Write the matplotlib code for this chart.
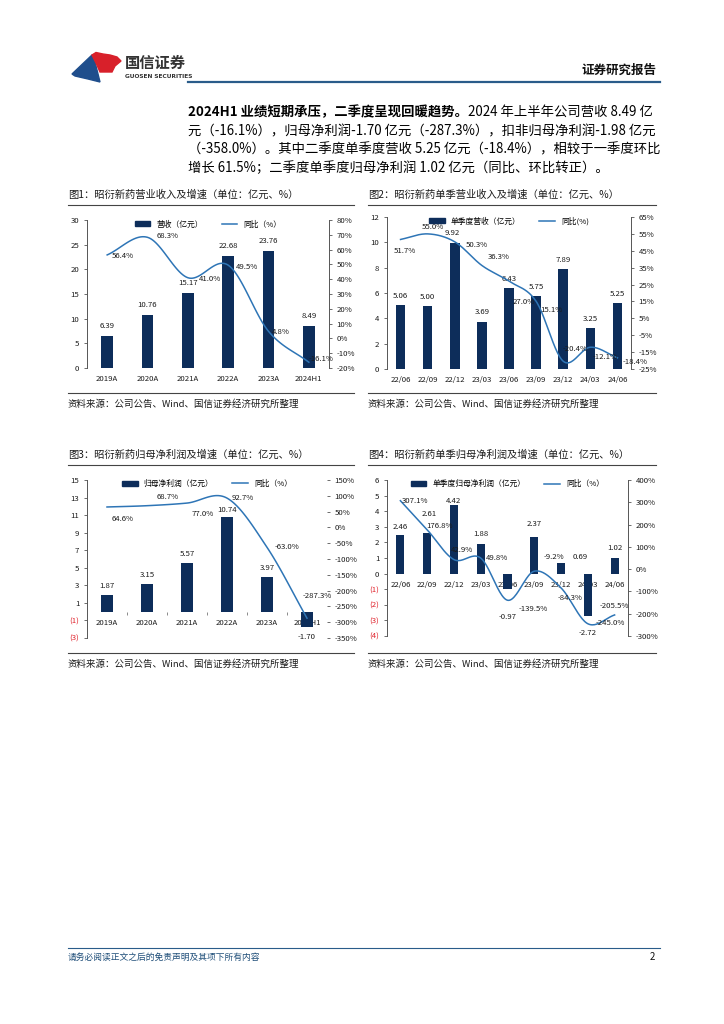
import numpy as np
import matplotlib.pyplot as plt
from matplotlib.patches import Patch, Polygon
from matplotlib.lines import Line2D

plt.rcParams['font.family'] = ['Noto Sans CJK SC', 'DejaVu Sans']
plt.rcParams['axes.unicode_minus'] = False

W, H = 724, 1024
BAR = '#0d2d5a'
LINE = '#2e75b6'
RED = '#e0202a'
TXT = '#1a1a1a'

# ---- data ----
years = ['2019A', '2020A', '2021A', '2022A', '2023A', '2024H1']
rev = [6.39, 10.76, 15.17, 22.68, 23.76, 8.49]
rev_yoy = [56.4, 68.3, 41.0, 49.5, 4.8, -16.1]

quarters = ['22/06', '22/09', '22/12', '23/03', '23/06', '23/09', '23/12', '24/03', '24/06']
q_rev = [5.06, 5.00, 9.92, 3.69, 6.43, 5.75, 7.89, 3.25, 5.25]
q_rev_yoy = [51.7, 55.0, 50.3, 36.3, 27.0, 15.1, -20.4, -12.1, -18.4]

profit = [1.87, 3.15, 5.57, 10.74, 3.97, -1.70]
profit_yoy = [64.6, 68.7, 77.0, 92.7, -63.0, -287.3]

q_profit = [2.46, 2.61, 4.42, 1.88, -0.97, 2.37, 0.69, -2.72, 1.02]
q_profit_yoy = [307.1, 176.8, 42.9, 49.8, -139.5, -9.2, -84.3, -245.0, -205.5]

titles = ['图1：昭衍新药营业收入及增速（单位：亿元、%）',
          '图2：昭衍新药单季营业收入及增速（单位：亿元、%）',
          '图3：昭衍新药归母净利润及增速（单位：亿元、%）',
          '图4：昭衍新药单季归母净利润及增速（单位：亿元、%）']
source = '资料来源：公司公告、Wind、国信证券经济研究所整理'

fig = plt.figure(figsize=(W / 100, H / 100), dpi=100)


def px_rect(x0, y0, x1, y1):
    return [x0 / W, 1 - y1 / H, (x1 - x0) / W, (y1 - y0) / H]


def smooth(xs, ys, n=24):
    # catmull-rom through the data points (like excel smoothed lines)
    xs = np.asarray(xs, float)
    ys = np.asarray(ys, float)
    px = np.concatenate([[2 * xs[0] - xs[1]], xs, [2 * xs[-1] - xs[-2]]])
    py = np.concatenate([[2 * ys[0] - ys[1]], ys, [2 * ys[-1] - ys[-2]]])
    t = np.linspace(0, 1, n, endpoint=False)
    outx, outy = [], []
    for i in range(1, len(px) - 2):
        for arr, out in ((px, outx), (py, outy)):
            p0, p1, p2, p3 = arr[i - 1:i + 3]
            out.extend(0.5 * (2 * p1 + (-p0 + p2) * t + (2 * p0 - 5 * p1 + 4 * p2 - p3) * t ** 2
                              + (-p0 + 3 * p1 - 3 * p2 + p3) * t ** 3))
    outx.append(xs[-1])
    outy.append(ys[-1])
    return outx, outy


# ---- page furniture ----
page = fig.add_axes([0, 0, 1, 1])
page.set_xlim(0, W)
page.set_ylim(H, 0)
page.axis('off')

page.add_patch(Polygon([(72, 74), (92, 55), (95, 59), (96, 66), (98, 74), (100, 82), (88, 79), (75, 76)],
                       closed=True, color='#1f4e8c'))
page.add_patch(Polygon([(92, 55), (96, 52.5), (103, 54), (110, 55), (117, 57), (121, 61), (115, 66),
                        (112, 72), (100, 72), (96, 63)], closed=True, color='#d8202a'))
page.text(125, 63, '国信证券', fontsize=11, fontweight='bold', color='#333333', va='center')
page.text(125, 77, 'GUOSEN SECURITIES', fontsize=4.2, fontweight='bold', color='#333333',
          va='center', family='DejaVu Sans')
page.text(656, 70, '证券研究报告', fontsize=9, fontweight='bold', color='#111111', ha='right', va='center')
page.plot([188, 660], [82, 82], color='#2a5c8a', lw=1.6)

FS = 9.6
r = fig.canvas.get_renderer()
t1 = page.text(188, 112, '2024H1 业绩短期承压，二季度呈现回暖趋势。', fontsize=FS,
               fontweight='bold', color='#000000', va='center')
w1 = t1.get_window_extent(renderer=r).width
page.text(188 + w1, 112, '2024 年上半年公司营收 8.49 亿', fontsize=FS, color='#000000', va='center')
body = ['元（-16.1%），归母净利润-1.70 亿元（-287.3%），扣非归母净利润-1.98 亿元',
        '（-358.0%）。其中二季度单季度营收 5.25 亿元（-18.4%），相较于一季度环比',
        '增长 61.5%；二季度单季度归母净利润 1.02 亿元（同比、环比转正）。']
for i, line in enumerate(body):
    page.text(188, 131 + i * 18.7, line, fontsize=FS, color='#000000', va='center')

# title / source rules for the four panels
for (x0, x1), ty in [((68, 354), 195), ((368, 656), 195), ((68, 354), 455), ((368, 656), 455)]:
    idx = (0 if x0 < 300 else 1) + (0 if ty < 300 else 2)
    page.text(x0, ty, titles[idx], fontsize=7.4, color=TXT, va='center')
    page.plot([x0, x1], [ty + 10, ty + 10], color='#444444', lw=0.8)
    sy = 393 if ty < 300 else 653
    page.plot([x0, x1], [sy, sy], color='#444444', lw=0.8)
    page.text(x0, sy + 11, source, fontsize=6.8, color=TXT, va='center')

page.plot([68, 660], [948, 948], color='#2a5c8a', lw=0.8)
page.text(68, 957, '请务必阅读正文之后的免责声明及其项下所有内容', fontsize=6.3, color='#1f4e79', va='center')
page.text(655, 957, '2', fontsize=7, color='#111111', ha='right', va='center')


def neg_label(v):
    return f'({abs(int(v))})' if v < 0 else f'{int(v)}'


def combo(rect, cats, bars, yoy, ylim, ystep, rlim, rstep, bar_w, labels,
          line_off, bar_off, zero_axis=False, right_spine=True, cat_ticks=False):
    ax = fig.add_axes(px_rect(*rect))
    x = np.arange(len(cats))
    ax.bar(x, bars, width=bar_w, color=BAR, zorder=2)
    ax.set_xlim(-0.5, len(cats) - 0.5)
    ax.set_ylim(*ylim)
    yt = np.arange(ylim[0], ylim[1] + 0.001, ystep)
    ax.set_yticks(yt)
    ax.set_yticklabels([neg_label(v) for v in yt])
    for lab, v in zip(ax.get_yticklabels(), yt):
        lab.set_color(RED if v < 0 else TXT)
    ax.set_xticks(x)
    ax.set_xticklabels(cats)
    ax.spines['top'].set_visible(False)
    ax.spines['right'].set_visible(False)
    ax.spines['left'].set_color('#555555')
    ax.spines['left'].set_linewidth(0.7)
    ax.spines['bottom'].set_color('none')
    if zero_axis:
        ax.spines['bottom'].set_position(('data', 0))
    ax.tick_params(axis='y', labelsize=5.6, length=2.5, width=0.6, color='#555555', pad=3)
    ax.tick_params(axis='x', labelsize=5.6, length=0, pad=5, labelcolor=TXT)
    if cat_ticks:
        ax.set_xticks(x[:-1] + 0.5, minor=True)
        ax.tick_params(axis='x', which='minor', length=2.5, width=0.6, color='#777777', direction='out')
    for xi, v, off in zip(x, bars, bar_off):
        ax.annotate(f'{v:.2f}', (xi, v), xytext=off, textcoords='offset pixels',
                    ha='center', va='center', fontsize=5.6, color=TXT)

    ax2 = ax.twinx()
    sx, sy = smooth(x, yoy)
    ax2.plot(sx, sy, color=LINE, lw=1.1, zorder=3)
    ax2.set_ylim(*rlim)
    rt = np.arange(rlim[0], rlim[1] + 0.001, rstep)
    ax2.set_yticks(rt)
    ax2.set_yticklabels([f'{int(v)}%' for v in rt])
    for s in ['top', 'left', 'bottom']:
        ax2.spines[s].set_visible(False)
    if right_spine:
        ax2.spines['right'].set_color('#555555')
        ax2.spines['right'].set_linewidth(0.7)
    else:
        ax2.spines['right'].set_visible(False)
    ax2.tick_params(axis='y', labelsize=5.6, length=2.5, width=0.6, color='#555555', pad=3, labelcolor=TXT)
    for xi, v, off in zip(x, yoy, line_off):
        ax2.annotate(f'{v:.1f}%', (xi, v), xytext=off, textcoords='offset pixels',
                     ha='center', va='center', fontsize=5.6, color=TXT)

    handles = [Patch(color=BAR), Line2D([0], [0], color=LINE, lw=1.1)]
    ax2.legend(handles, labels, loc='upper center', bbox_to_anchor=(0.5, 1.045), ncol=2,
               frameon=False, fontsize=5.6, handlelength=2.0, handleheight=0.6,
               columnspacing=2.4, handletextpad=0.8)
    return ax, ax2


combo((87, 220, 329, 368), years, rev, rev_yoy, (0, 30), 5, (-20, 80), 10, 0.29,
      ['营收（亿元）', '同比（%）'],
      [(16, -1), (20, 1), (22, -1), (19, -2), (12, -1), (12, 3)],
      [(0, 10)] * 6)

combo((387, 217, 631, 369), quarters, q_rev, q_rev_yoy, (0, 12), 2, (-25, 65), 10, 0.35,
      ['单季度营收（亿元）', '同比(%)'],
      [(4, -12), (5, 7), (22, -3), (17, 8), (15, -21), (15, -9), (12, 12), (15, -10), (18, -4)],
      [(0, 9), (0, 9), (-3, 10), (0, 10), (0, 9), (0, 9), (0, 9), (0, 9), (0, 9)])

combo((87, 480, 327, 638), years, profit, profit_yoy, (-3, 15), 2, (-350, 150), 50, 0.29,
      ['归母净利润（亿元）', '同比（%）'],
      [(16, -12), (21, 9), (16, -11), (16, 0), (20, 0), (10, 22)],
      [(0, 9), (0, 9), (0, 9), (0, 7), (0, 9), (0, -10)],
      zero_axis=True, right_spine=False, cat_ticks=True)

combo((387, 480, 628, 636), quarters, q_profit, q_profit_yoy, (-4, 6), 1, (-300, 400), 100, 0.3,
      ['单季度归母净利润（亿元）', '同比（%）'],
      [(15, 0), (12, 4), (8, 10), (16, 0), (26, -9), (20, 14), (9, -10), (22, 1), (0, 9)],
      [(0, 8), (2, 19), (0, 4), (0, 10), (0, -28), (0, 13), (19, 6), (0, -17), (0, 10)],
      zero_axis=True)

plt.savefig('out.png', dpi=100)
